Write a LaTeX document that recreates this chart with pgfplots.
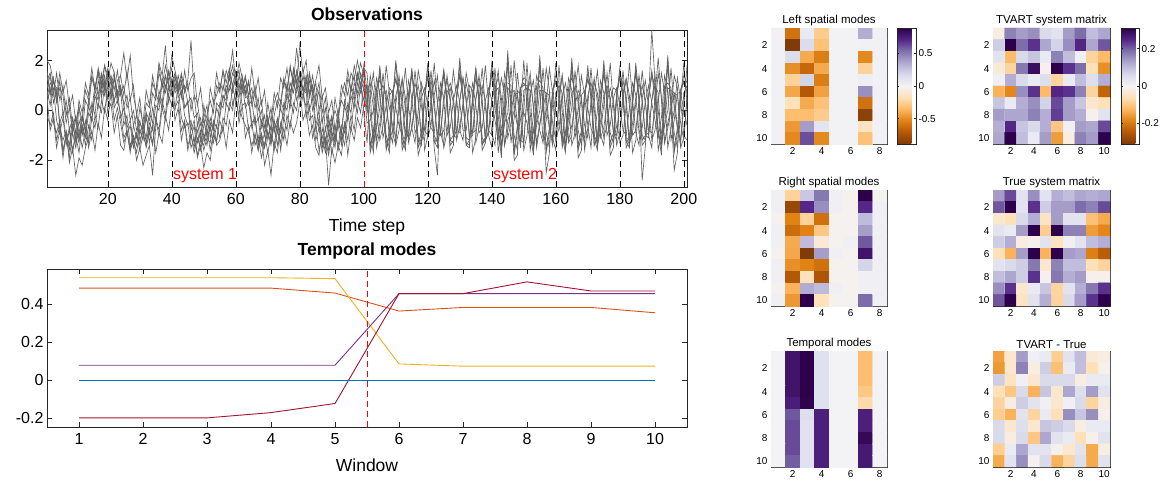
\documentclass[border=0pt]{standalone}
\usepackage{pgfplots}
\usepackage{pgfplotstable}
\pgfplotsset{compat=1.18}
\usepackage{fontspec}
\setmainfont{Liberation Sans}
\newcommand{\fsz}[1]{\fontsize{#1}{#1}\selectfont}
\definecolor{mblue}{HTML}{0072BD}
\definecolor{morange}{HTML}{D95319}
\definecolor{myellow}{HTML}{EDB120}
\definecolor{mpurple}{HTML}{7E2F8E}
\definecolor{mgreen}{HTML}{77AC30}
\definecolor{mlblue}{HTML}{4DBEEE}
\definecolor{mdred}{HTML}{A2142F}
\definecolor{mred}{RGB}{255,0,0}
\definecolor{obs}{gray}{0.38}
\definecolor{axc}{gray}{0.15}
\pgfplotsset{
  colormap={puor}{rgb255=(127,59,8) rgb255=(179,88,6) rgb255=(224,130,20) rgb255=(253,184,99) rgb255=(254,224,182) rgb255=(243,243,246) rgb255=(216,218,235) rgb255=(178,171,210) rgb255=(128,115,172) rgb255=(84,39,136) rgb255=(45,0,75)},
  big/.style={scale only axis, width=640pt,
    axis line style={line width=0.6pt, axc},
    tick style={line width=0.6pt, axc},
    tick align=inside, major tick length=5pt,
    ticklabel style={font=\fsz{16}},
    xticklabel style={yshift=-3pt},
    label style={font=\fsz{17.5}},
    xlabel style={yshift=-7pt},
    title style={font=\bfseries\fsz{17.5}},
    /pgf/number format/assume math mode=true},
  hm/.style={scale only axis, height=116pt,
    colormap name=puor, enlargelimits=false,
    y dir=reverse, ymin=0.5, ymax=10.5, ytick={2,4,6,8,10},
    axis line style={line width=0.5pt, axc},
    tick style={line width=0.5pt, axc},
    tick align=inside, major tick length=2pt,
    ticklabel style={font=\fsz{10}},
    title style={font=\fsz{11.5}, yshift=-7pt},
    /pgf/number format/assume math mode=true},
  cb/.style={colorbar, colorbar style={at={(parent axis.north east)}, anchor=north west,
    xshift=#1, width=19pt, tick align=inside, major tick length=2pt,
    axis line style={line width=0.5pt, axc}, tick style={line width=0.5pt, axc},
    yticklabel style={font=\fsz{10}, xshift=-1pt}, /pgf/number format/assume math mode=true}},
}
\pgfplotstableread{
t A B C D E F G H I J
1 0.9 1.6 0.3 1.4 0.5 1.2 -0.2 2.0 0.8 0.5
2 1.4 0.7 0.9 0.6 1.1 1.5 -0.6 1.8 0.2 -0.8
3 0.3 1.3 -0.5 1.2 0.9 0.6 -0.1 1.1 1.3 -0.3
4 0.8 0.4 -0.9 0.3 -0.4 1.5 -1.2 0.9 0.6 -1.5
5 -0.5 1.2 -0.4 0.9 -0.9 0.4 -0.6 -0.7 1.5 -0.8
6 -0.1 -0.2 -1.6 0.6 -0.3 1.0 -1.7 -1.2 0.7 -1.9
7 -1.2 0.4 -1.0 -0.5 -1.4 -0.2 -0.9 -0.8 1.2 -0.9
8 -0.7 -0.8 -1.9 0.1 -0.8 0.5 -1.6 -2.1 0.1 -1.4
9 -1.6 -0.3 -0.9 -0.9 -1.7 -0.7 -0.6 -1.5 0.6 -0.3
10 -1.0 -1.3 -1.5 -0.3 -0.8 -0.2 -1.2 -2.6 -0.5 -0.9
11 -1.7 -0.7 -0.4 -1.1 -1.3 -1.2 0.1 -1.9 0.2 0.4
12 -0.6 -1.5 -0.9 -0.2 -0.3 -0.6 -0.4 -2.2 -1.0 -0.1
13 -1.1 -0.8 0.4 -0.9 -0.8 -1.4 0.8 -1.5 -0.4 1.1
14 -0.1 -1.3 0.1 0.2 0.4 -0.6 0.4 -1.1 -1.5 0.6
15 -0.4 -0.3 1.3 -0.4 -0.1 -1.2 1.4 0.3 -0.8 1.7
16 0.8 -0.7 0.8 0.6 1.1 -0.2 0.9 -0.2 -1.6 0.8
17 0.4 0.3 1.7 0.1 0.6 -0.7 1.6 1.2 -0.5 1.5
18 1.4 -0.1 1.1 1.1 1.5 0.4 0.9 0.7 -1.1 0.5
19 0.9 1.0 1.8 0.6 0.8 -0.1 1.4 1.8 0.1 1.2
20 1.7 0.5 1.4 1.4 1.6 1.0 0.4 1.1 -0.4 -0.1
21 1.0 1.4 1.2 0.7 1.3 0.4 0.8 1.9 0.9 0.3
22 1.5 0.8 0.1 1.3 0.4 1.3 -0.4 1.5 0.3 -0.9
23 0.5 1.6 0.4 0.6 0.8 0.7 0.1 0.3 1.2 -0.2
24 0.9 0.6 -0.1 1.0 -0.3 1.4 -0.5 0.8 1.4 -1.4
25 0.3 1.0 -1.1 0.2 0.1 2.3 -1.3 -0.6 0.6 -1.6
26 -0.7 0.1 -0.8 0.6 -1.0 1.2 -0.9 -0.2 1.6 -0.8
27 -0.4 0.5 -1.6 -0.4 -0.6 2.2 -1.5 -1.4 0.4 -1.7
28 -1.3 -0.6 -1.2 0.0 -1.5 0.6 -1.0 -1.1 1.0 -0.6
29 -0.9 -0.2 -1.7 -0.8 -0.9 -0.1 -1.4 -2.0 -0.2 -1.1
30 -1.6 -1.2 -0.8 -0.4 -1.4 -0.9 -0.5 -1.5 0.5 0.1
31 -1.0 -0.8 -1.2 -1.0 -0.6 -0.5 -0.8 -2.2 -0.7 -0.5
32 -1.4 -1.5 -0.1 -0.3 -1.1 -1.3 0.3 -1.8 -0.1 0.8
33 -0.5 -0.9 -0.4 -0.9 -0.1 -0.7 0.1 -1.4 -1.3 0.2
34 -0.8 -1.4 0.7 0.1 -0.5 -1.3 1.1 -2.6 -0.6 1.4
35 0.2 -0.3 0.4 -0.4 0.7 -0.4 0.7 -0.6 -1.7 0.7
36 0.0 -0.8 1.5 0.5 0.3 -1.0 1.9 0.8 -0.9 1.8
37 1.1 0.4 1.0 0.1 1.3 0.1 1.4 0.3 -1.3 0.9
38 0.7 -0.2 1.8 1.0 0.9 -0.4 2.6 1.4 -0.2 1.4
39 1.6 1.1 1.2 0.6 1.5 0.6 0.8 1.0 -0.8 0.3
40 1.1 0.6 1.7 1.3 0.9 0.2 1.2 2.2 0.3 0.9
41 1.5 1.3 0.7 0.8 1.4 1.1 0.1 1.6 0.0 -0.4
42 0.8 0.9 0.9 1.4 0.5 0.7 0.4 1.0 1.1 0.1
43 1.1 1.5 -0.3 0.7 0.8 1.4 -0.8 1.2 0.5 -1.2
44 0.1 0.7 -0.7 1.0 -0.2 0.8 -0.4 0.1 1.6 -0.5
45 0.4 1.1 -0.5 0.3 -0.6 1.2 -1.4 0.3 0.8 -1.6
46 -0.8 0.0 -1.5 0.5 -0.4 2.8 -1.0 -1.1 1.3 -1.0
47 -0.4 0.6 -1.1 -0.3 -1.3 0.6 -1.7 -0.6 1.5 -1.5
48 -1.3 -0.6 -1.8 -0.1 -0.8 0.3 -1.1 -1.9 0.2 -0.5
49 -0.9 -0.3 -1.2 -0.9 -1.6 -0.6 -1.5 -1.4 0.9 -1.2
50 -1.6 -1.2 -1.4 -0.4 -0.9 -0.3 -0.6 -2.3 -0.3 0.2
51 -1.1 -0.7 -0.5 -1.0 -1.4 -1.1 -0.2 -1.7 0.2 -0.6
52 -1.3 -1.6 -0.8 -0.3 -0.5 -0.7 0.4 -2.0 -1.1 0.9
53 -0.4 -0.9 0.3 -0.8 -0.8 -1.3 -0.1 -1.0 -0.5 0.3
54 -0.7 -1.2 0.6 0.1 0.3 -0.6 1.0 -1.3 -1.4 1.5
55 0.3 -0.4 1.1 -0.3 0.1 -1.1 0.7 -0.1 -1.2 0.8
56 0.1 -0.9 0.8 0.6 1.0 -0.3 1.6 0.6 -0.6 1.6
57 1.0 0.3 1.6 0.2 0.6 -0.6 1.1 0.4 -1.5 0.6
58 0.8 0.0 1.2 1.0 1.5 0.3 1.7 1.5 -0.4 1.5
59 1.5 0.9 1.8 0.7 1.0 0.0 0.9 2.4 -0.9 0.2
60 1.2 0.4 1.0 1.4 1.6 0.9 1.2 1.1 0.4 0.8
61 1.6 1.4 1.1 0.9 0.7 0.5 0.2 1.9 -0.2 -0.5
62 0.7 0.8 0.2 1.3 1.1 1.4 -0.3 1.3 0.9 0.2
63 1.0 1.3 0.3 0.6 0.1 0.7 -0.6 0.5 1.4 -1.1
64 0.2 0.6 -0.8 1.1 0.4 1.2 -0.9 0.6 0.5 -0.6
65 0.4 0.9 -0.5 0.2 -0.7 0.4 -1.4 -0.5 1.7 -1.7
66 -0.6 0.1 -1.4 0.7 -0.2 1.0 -1.0 -0.3 0.6 -0.9
67 -0.3 0.5 -1.0 -0.4 -1.3 0.0 -1.6 -1.4 1.3 -1.6
68 -1.4 -0.7 -1.9 0.0 -0.9 0.4 -1.1 -1.0 0.2 -0.4
69 -0.9 -0.2 -1.3 -1.0 -1.5 -0.7 -1.5 -2.2 0.8 -1.0
70 -1.7 -1.2 -0.9 -0.3 -0.8 -0.2 -0.4 -1.6 -0.6 0.3
71 -1.0 -0.6 -1.3 -1.1 -1.4 -1.2 -0.8 -2.6 0.1 -0.5
72 -1.4 -1.6 -0.2 -0.5 -0.4 -0.6 0.3 -1.3 -0.9 0.7
73 -0.5 -0.8 0.4 -0.7 -0.9 -1.4 0.7 -1.7 -0.3 0.1
74 -0.9 -1.3 0.1 0.1 0.4 -0.5 0.3 -0.6 -1.6 1.3
75 0.3 -0.3 1.2 -0.4 0.0 -1.2 1.3 -0.1 -0.7 0.9
76 0.0 -0.8 0.7 0.6 1.1 -0.2 0.8 0.7 -1.4 1.7
77 1.1 0.4 1.7 0.1 0.5 -0.7 1.8 0.3 -0.4 0.7
78 0.7 -0.1 1.1 1.1 1.6 0.3 1.0 1.7 -0.9 1.3
79 1.6 1.0 2.5 0.7 0.9 0.0 1.5 1.1 -0.5 0.4
80 1.1 0.5 1.3 1.5 1.5 1.0 0.6 2.6 0.3 0.9
81 1.7 1.4 0.8 0.8 0.8 0.4 0.9 1.5 0.7 -0.4
82 0.8 0.7 0.7 1.4 1.2 1.3 -0.3 2.0 0.1 0.0
83 1.2 1.5 -0.4 0.6 0.0 0.7 0.2 0.5 1.5 -1.0
84 0.0 0.6 -0.2 1.0 0.5 1.4 -1.1 1.0 0.7 -0.6
85 0.5 1.1 -1.2 0.2 -0.8 0.5 -0.6 -0.6 1.2 -1.5
86 -0.8 0.0 -0.7 0.8 -0.3 1.1 -1.6 0.0 1.8 -1.8
87 -0.3 0.6 -1.7 -0.5 -1.4 -0.1 -1.0 -1.5 0.5 -0.7
88 -1.5 -0.8 -1.1 0.1 -0.7 0.5 -1.7 -1.1 0.9 -1.3
89 -0.8 -0.2 -1.8 -1.0 -1.6 -0.7 -1.2 -3.0 -0.1 -0.4
90 -1.8 -1.3 -0.9 -0.3 -0.8 -0.2 -0.5 -1.5 0.4 -0.8
91 -1.0 -0.6 -1.3 -1.1 -1.5 -1.2 0.0 -2.1 -0.8 0.5
92 -1.4 -1.6 -0.2 -0.4 -0.4 -0.6 -0.4 -1.4 0.0 -0.2
93 -0.6 -0.9 0.4 -0.9 -0.9 -1.4 0.6 -1.8 -1.2 1.0
94 -0.9 -1.4 0.1 0.2 0.4 -0.5 1.1 -0.6 -0.5 0.6
95 0.3 -0.2 1.3 -0.4 -0.1 -1.2 0.6 -0.3 -1.8 1.6
96 -0.1 -0.8 0.8 0.6 1.0 -0.2 1.5 0.9 -0.7 0.8
97 1.1 0.4 1.8 0.1 0.6 -0.8 1.2 0.4 -1.2 1.4
98 0.7 -0.1 1.2 1.1 1.5 0.4 2.0 1.5 -0.3 0.5
99 1.5 1.0 1.9 0.7 0.9 -0.1 1.3 1.0 -0.7 1.1
100 1.1 0.4 1.4 1.6 1.8 1.0 0.8 1.7 0.2 -0.1
101 0.9 1.0 0.2 -0.1 0.8 -0.5 1.0 1.5 0.8 -1.3
102 -1.5 0.7 -0.9 1.4 -1.4 -0.4 -1.7 -0.1 1.1 0.7
103 -0.8 -1.4 -1.7 0.7 -0.9 0.0 -1.1 -1.3 0.1 1.5
104 0.2 -0.7 0.9 -1.2 0.1 1.3 0.9 -0.6 -1.5 0.0
105 1.8 0.1 1.2 -0.5 1.7 0.7 1.4 0.8 -0.8 -1.2
106 0.2 1.5 0.9 0.6 0.1 -1.1 0.3 1.0 0.2 -0.6
107 -1.0 0.2 -1.6 0.8 -1.5 -0.5 -1.2 0.6 1.8 0.2
108 -1.5 -0.8 -1.0 0.1 -0.8 0.6 -1.7 -1.2 0.7 0.9
109 0.7 -1.3 0.3 -0.6 0.7 0.8 0.4 -0.8 -0.9 0.7
110 1.3 0.6 1.9 -1.1 1.2 0.1 2.0 0.2 -1.4 -1.4
111 0.6 1.1 0.3 0.1 0.7 -0.6 0.8 1.4 0.6 -0.8
112 -1.4 0.6 -1.1 1.3 -0.9 -1.0 -1.6 0.2 1.2 0.5
113 -1.0 -1.2 -1.6 0.5 -1.4 0.1 -1.2 -0.8 0.0 1.7
114 0.3 -0.9 0.7 -1.1 0.2 1.2 0.7 -1.1 -1.3 0.1
115 1.7 0.2 1.4 -0.7 1.6 0.5 1.5 0.5 -0.7 -0.7
116 0.3 1.6 0.7 0.4 0.3 -0.9 0.2 1.1 0.1 -1.3
117 -1.1 0.3 -1.5 1.0 -1.3 -0.6 -1.8 0.5 1.6 0.0
118 -1.4 -0.9 -1.1 0.2 -0.9 0.5 -1.3 -1.3 0.9 1.1
119 0.6 -1.2 0.4 -0.8 0.6 0.9 0.5 -0.7 -1.6 0.6
120 1.4 0.5 1.8 -1.0 1.3 0.2 1.9 0.3 -1.0 -1.1
121 0.5 1.2 0.4 0.2 0.6 -0.7 0.7 1.6 0.5 -0.6
122 -1.3 0.5 -1.2 1.2 -1.0 -0.9 -1.5 0.1 1.9 0.6
123 -1.1 -1.3 -1.5 0.4 -1.3 0.2 -2.6 -0.9 0.3 1.4
124 0.4 -0.8 0.6 -1.0 0.3 1.1 0.8 -1.0 -0.9 -0.1
125 1.6 0.3 1.5 -0.8 1.5 0.4 1.6 0.6 -1.4 -1.5
126 0.4 1.4 0.6 0.5 0.2 -1.0 0.4 1.2 0.7 -0.9
127 -1.2 0.4 -1.4 0.9 -1.2 -0.7 -1.7 0.4 1.1 0.3
128 -1.3 -1.0 -1.2 0.3 -1.0 0.4 -1.4 -1.1 0.6 1.6
129 0.5 -1.1 0.5 -0.9 0.5 1.0 0.6 -0.8 -1.2 0.5
130 1.5 0.4 2.1 -0.9 1.4 0.3 1.8 0.4 -0.6 -0.8
131 0.5 1.3 0.5 0.3 0.5 -0.8 0.6 1.3 0.2 -1.2
132 -1.4 0.5 -1.3 1.1 -1.1 -0.8 -1.4 0.3 1.5 0.1
133 -1.2 -1.1 -1.4 0.4 -1.2 0.3 -1.5 -1.0 0.8 1.0
134 0.4 -1.0 0.6 -0.9 0.4 1.1 0.5 -0.9 -1.7 0.8
135 1.7 0.4 1.6 -0.8 1.3 0.2 1.7 0.5 -1.1 -1.3
136 0.3 1.4 0.4 0.4 0.4 -0.9 0.5 1.1 0.4 -0.7
137 -1.1 0.3 -1.4 1.0 -1.3 -0.7 -1.6 0.4 1.7 0.6
138 -1.3 -1.2 -1.1 0.3 -1.1 0.4 -1.3 -1.2 0.1 1.8
139 0.6 -0.9 0.4 -0.8 0.6 0.9 0.6 -0.8 -1.0 0.2
140 1.4 0.5 1.7 -1.0 1.6 0.4 1.9 0.3 -1.5 -0.9
141 0.9 0.8 0.1 0.7 0.9 -0.4 1.1 1.7 0.9 -1.4
142 -1.7 0.9 -0.8 1.6 -0.7 -1.2 -1.1 -0.2 1.3 0.4
143 -0.7 -1.5 -1.9 0.0 -1.6 -0.1 -1.0 -1.4 0.5 1.3
144 0.0 -0.5 1.1 -1.4 -0.1 1.5 0.2 -0.5 -1.4 0.6
145 2.1 -0.1 1.1 -0.4 1.9 0.8 2.4 0.9 -0.8 -1.1
146 0.1 1.8 1.0 0.0 0.0 -1.3 0.0 0.7 0.0 -0.5
147 -1.0 0.0 -1.8 0.6 -1.6 -0.3 -2.0 0.8 2.0 0.0
148 -1.6 -0.6 -0.8 0.7 -0.6 0.8 -1.8 -0.6 0.6 1.5
149 0.9 -1.5 0.1 -0.4 0.9 0.6 0.9 -1.3 -1.2 0.3
150 1.1 0.8 2.0 -1.3 1.0 -0.1 1.3 0.0 -1.3 -1.6
151 0.8 0.9 0.2 0.6 1.0 -0.5 1.2 1.9 0.6 -1.0
152 -1.6 0.8 -0.9 1.5 -0.8 -1.3 -1.2 -0.1 1.2 0.7
153 -0.8 -1.6 -1.8 0.1 -1.5 -0.2 -0.9 -1.5 0.2 1.2
154 0.1 -0.6 1.0 -1.3 0.0 1.4 0.1 -0.4 -1.5 -0.1
155 2.0 0.0 1.2 -0.5 1.8 0.9 2.2 0.8 -0.6 -0.8
156 0.2 1.7 0.9 0.1 0.1 -1.2 0.1 0.8 0.3 -1.3
157 -0.9 0.1 -1.7 0.7 -1.5 -0.4 -2.5 0.7 1.7 0.2
158 -1.5 -0.7 -0.9 0.6 -0.7 0.7 -1.7 -0.7 0.8 1.7
159 0.8 -1.4 0.2 -0.5 0.8 0.7 0.8 -1.2 -1.1 0.7
160 1.2 0.7 1.9 -1.2 1.1 0.0 1.4 0.1 -1.6 -1.2
161 0.7 1.0 0.3 0.5 0.9 -0.6 1.1 1.8 0.4 -0.7
162 -1.5 0.7 -1.0 1.4 -0.9 -1.2 -1.3 0.0 1.4 0.5
163 -0.9 -1.5 -1.7 0.2 -1.4 -0.1 -1.0 -1.6 0.0 1.1
164 0.2 -0.7 0.9 -1.2 0.1 1.3 0.0 -0.3 -1.3 0.3
165 1.9 0.1 1.3 -0.6 1.7 0.8 2.1 0.7 -1.0 -1.4
166 0.3 1.6 0.8 0.2 0.2 -1.1 0.2 0.9 0.8 -0.9
167 -0.8 0.2 -1.6 0.8 -1.4 -0.5 -1.9 0.6 1.8 0.1
168 -1.4 -0.8 -1.0 0.5 -0.8 0.6 -1.6 -0.8 0.4 1.4
169 0.7 -1.3 0.3 -0.6 0.7 0.8 0.7 -1.1 -1.6 0.6
170 1.3 0.6 1.8 -1.1 1.2 0.1 1.5 0.2 -0.7 -0.6
171 0.6 1.1 0.4 0.4 0.8 -0.7 1.0 1.7 0.1 -1.5
172 -1.4 0.6 -1.1 1.3 -1.0 -1.1 -1.4 0.1 1.1 0.6
173 -1.0 -1.4 -1.6 0.3 -1.3 0.0 -1.1 -1.5 0.7 1.6
174 0.3 -0.8 0.8 -1.1 0.2 1.2 0.1 -0.4 -1.0 0.0
175 1.8 0.2 1.4 -0.7 1.6 0.7 2.0 0.6 -1.4 -1.1
176 0.4 1.5 0.7 0.3 0.3 -1.0 0.3 1.0 0.5 -0.6
177 -0.9 0.3 -1.5 0.9 -1.3 -0.6 -1.8 0.5 1.9 0.4
178 -1.3 -0.9 -1.1 0.4 -0.9 0.5 -1.5 -0.9 0.2 0.9
179 0.6 -1.2 0.4 -0.7 0.6 0.9 0.6 -1.0 -1.4 0.8
180 1.4 0.5 1.7 -1.0 1.3 0.2 1.6 0.3 -0.9 -1.3
181 0.5 1.2 0.5 0.5 0.7 -0.8 0.9 1.6 0.7 -1.0
182 -1.3 0.5 -1.2 1.2 -1.1 -1.0 -1.5 0.2 1.3 0.2
183 -1.1 -1.3 -1.5 0.2 -1.2 0.1 -1.2 -1.4 0.6 1.9
184 0.4 -0.9 0.7 -1.0 0.3 1.1 0.2 -0.5 -1.7 0.4
185 1.7 0.3 1.5 -0.8 1.5 0.6 1.9 0.5 -1.2 -0.9
186 0.5 1.4 0.6 0.4 0.4 -0.9 0.4 1.1 0.2 -1.4
187 -1.0 0.4 -1.4 1.0 -1.2 -0.7 -2.8 0.4 1.6 0.5
188 -1.2 -1.0 -1.2 0.3 -1.0 0.4 -1.4 -1.0 0.3 1.2
189 0.5 -1.1 0.5 -0.8 0.5 1.0 0.5 -0.9 -1.0 0.1
190 1.5 0.4 1.6 -0.9 1.4 0.3 3.2 0.4 -1.5 -1.2
191 0.8 1.0 0.2 0.1 1.0 -0.4 1.2 1.4 0.6 -0.8
192 -1.6 0.7 -0.8 1.5 -0.8 -1.1 -1.0 0.0 2.1 0.3
193 -0.9 -1.4 -1.8 0.5 -1.5 -0.3 -1.2 -1.2 0.5 1.5
194 0.1 -0.6 1.0 -1.3 0.0 1.4 0.4 -0.6 -1.3 0.7
195 2.0 0.0 1.1 -0.5 1.8 0.8 2.2 0.9 -0.7 -1.5
196 0.2 1.7 0.9 0.1 0.1 -1.2 0.1 0.8 0.0 -0.7
197 -0.9 0.1 -1.7 0.7 -1.5 -0.4 -2.4 0.7 1.4 0.0
198 -1.5 -0.7 -0.9 0.6 -0.7 0.7 -1.7 -0.7 0.9 1.3
199 0.8 -1.4 0.2 -0.5 0.8 0.7 0.8 -1.2 -1.5 0.4
200 1.2 0.7 1.9 -1.2 1.1 0.0 1.4 0.1 -1.1 -1.0
201 0.7 1.0 0.3 0.5 0.9 -0.6 1.1 1.8 0.5 -1.2
}\obsdata
\pgfplotstableread{
w m1 m2 m3 m4 m5 m6 m7 m8
1 0 0.485 0.540 0.078 0 0 -0.200 0
2 0 0.485 0.540 0.078 0 0 -0.200 0
3 0 0.485 0.540 0.078 0 0 -0.200 0
4 0 0.485 0.540 0.078 0 0 -0.172 0
5 0 0.459 0.535 0.078 0 0 -0.124 0
6 0 0.364 0.085 0.456 0 0 0.456 0
7 0 0.383 0.073 0.456 0 0 0.456 0
8 0 0.383 0.073 0.456 0 0 0.518 0
9 0 0.383 0.073 0.456 0 0 0.470 0
10 0 0.355 0.073 0.456 0 0 0.470 0
}\tmodes
\begin{document}
\begin{tikzpicture}
\useasboundingbox (0,0) rectangle (1164pt,485pt);
% ---------- Observations ----------
\begin{axis}[big, at={(47pt,298pt)}, anchor=south west, height=157pt,
  xmin=1, xmax=201, ymin=-3.07, ymax=3.22,
  xtick={20,40,...,200}, ytick={-2,0,2}, yticklabels={-2,0,2},
  xticklabels={20,40,60,80,100,120,140,160,180,200},
  title={Observations}, xlabel={Time step}]
\pgfplotsinvokeforeach{A,B,C,D,E,F,G,H,I,J}{
  \addplot[obs, line width=0.65pt, mark=none] table[x=t, y=#1] {\obsdata};
}
\pgfplotsinvokeforeach{20,40,60,80,120,140,160,180,200}{
  \addplot[black, line width=0.6pt, dash pattern=on 6pt off 4pt] coordinates {(#1,-3.07) (#1,3.22)};
}
\addplot[mred, line width=0.6pt, dash pattern=on 6pt off 4pt] coordinates {(100,-3.07) (100,3.22)};
\node[mred, anchor=west, inner sep=1pt, font=\fsz{16}] at (axis cs:40,-2.62) {system 1};
\node[mred, anchor=west, inner sep=1pt, font=\fsz{16}] at (axis cs:140,-2.62) {system 2};
\end{axis}
% ---------- Temporal modes (lines) ----------
\begin{axis}[big, at={(47pt,58pt)}, anchor=south west, height=158pt,
  xmin=0.5, xmax=10.5, ymin=-0.248, ymax=0.586,
  xtick={1,...,10}, xticklabels={1,2,3,4,5,6,7,8,9,10},
  ytick={-0.2,0,0.2,0.4}, yticklabels={-0.2,0,0.2,0.4},
  title={Temporal modes}, xlabel={Window}]
\addplot[mgreen, line width=0.9pt] table[x=w, y=m5] {\tmodes};
\addplot[mlblue, line width=0.9pt] table[x=w, y=m6] {\tmodes};
\addplot[mblue, line width=0.9pt] table[x=w, y=m1] {\tmodes};
\addplot[morange, line width=0.9pt] table[x=w, y=m2] {\tmodes};
\addplot[myellow, line width=0.9pt] table[x=w, y=m3] {\tmodes};
\addplot[mpurple, line width=0.9pt] table[x=w, y=m4] {\tmodes};
\addplot[mdred, line width=0.9pt] table[x=w, y=m7] {\tmodes};
\addplot[mblue, line width=0.9pt] table[x=w, y=m8] {\tmodes};
\end{axis}
% overlay axis for the red window divider
\begin{axis}[scale only axis, width=640pt, height=158pt, at={(47pt,58pt)}, anchor=south west,
  xmin=0.5, xmax=10.5, ymin=-0.248, ymax=0.586, hide axis]
\addplot[mred, line width=1pt, dash pattern=on 6pt off 4pt] coordinates {(5.5,-0.248) (5.5,0.586)};
\end{axis}
% ---------- Left spatial modes ----------
\begin{axis}[hm, at={(771pt,341pt)}, anchor=south west, width=116pt,
  xmin=0.5, xmax=8.5, xtick={2,4,6,8}, title={Left spatial modes},
  point meta min=-0.887, point meta max=0.887,
  cb=1.5pt, colorbar style={ytick={-0.5,0,0.5}, yticklabels={-0.5,0,0.5}}]
\addplot[matrix plot*, mesh/cols=8, point meta=explicit] coordinates {
(1,1)[0.02] (2,1)[-0.60] (3,1)[0.07] (4,1)[-0.27] (5,1)[0.01] (6,1)[0.01] (7,1)[0.35] (8,1)[0.02]
(1,2)[0.02] (2,2)[-0.887] (3,2)[0.16] (4,2)[-0.31] (5,2)[0.01] (6,2)[0.01] (7,2)[0.02] (8,2)[0.02]
(1,3)[0.02] (2,3)[0.16] (3,3)[-0.40] (4,3)[-0.55] (5,3)[0.01] (6,3)[0.01] (7,3)[-0.51] (8,3)[0.02]
(1,4)[0.02] (2,4)[-0.49] (3,4)[-0.64] (4,4)[-0.40] (5,4)[0.01] (6,4)[0.01] (7,4)[-0.24] (8,4)[0.02]
(1,5)[0.02] (2,5)[-0.24] (3,5)[0.20] (4,5)[-0.55] (5,5)[0.01] (6,5)[0.01] (7,5)[0.04] (8,5)[0.02]
(1,6)[0.02] (2,6)[-0.41] (3,6)[-0.71] (4,6)[-0.43] (5,6)[0.01] (6,6)[0.01] (7,6)[0.44] (8,6)[0.02]
(1,7)[0.02] (2,7)[-0.16] (3,7)[-0.40] (4,7)[-0.31] (5,7)[0.01] (6,7)[0.01] (7,7)[-0.60] (8,7)[0.02]
(1,8)[0.02] (2,8)[-0.33] (3,8)[-0.33] (4,8)[-0.27] (5,8)[0.01] (6,8)[0.01] (7,8)[-0.84] (8,8)[0.02]
(1,9)[0.02] (2,9)[-0.46] (3,9)[0.40] (4,9)[0.11] (5,9)[0.01] (6,9)[0.01] (7,9)[-0.15] (8,9)[0.02]
(1,10)[0.02] (2,10)[-0.51] (3,10)[0.62] (4,10)[-0.51] (5,10)[0.01] (6,10)[0.01] (7,10)[-0.31] (8,10)[0.02]
};
\end{axis}
% ---------- Right spatial modes ----------
\begin{axis}[hm, at={(771pt,179pt)}, anchor=south west, width=116pt,
  xmin=0.5, xmax=8.5, xtick={2,4,6,8}, title={Right spatial modes},
  point meta min=-1, point meta max=1]
\addplot[matrix plot*, mesh/cols=8, point meta=explicit] coordinates {
(1,1)[0.03] (2,1)[-0.27] (3,1)[0.28] (4,1)[0.58] (5,1)[0.03] (6,1)[-0.02] (7,1)[1.0] (8,1)[-0.02]
(1,2)[0.03] (2,2)[-0.9] (3,2)[0.8] (4,2)[0.5] (5,2)[0.03] (6,2)[-0.02] (7,2)[0.8] (8,2)[0.03]
(1,3)[-0.02] (2,3)[-0.6] (3,3)[-0.27] (4,3)[-0.68] (5,3)[-0.02] (6,3)[-0.02] (7,3)[0.33] (8,3)[0.03]
(1,4)[0.03] (2,4)[-0.7] (3,4)[-0.6] (4,4)[-0.32] (5,4)[-0.02] (6,4)[-0.02] (7,4)[0.45] (8,4)[0.03]
(1,5)[0.03] (2,5)[-0.45] (3,5)[0.33] (4,5)[-0.1] (5,5)[-0.02] (6,5)[0.03] (7,5)[0.67] (8,5)[0.03]
(1,6)[-0.02] (2,6)[-0.46] (3,6)[-1.0] (4,6)[0.45] (5,6)[0.03] (6,6)[-0.02] (7,6)[0.9] (8,6)[0.03]
(1,7)[0.03] (2,7)[-0.55] (3,7)[-0.6] (4,7)[-0.68] (5,7)[-0.02] (6,7)[-0.02] (7,7)[0.22] (8,7)[0.03]
(1,8)[0.03] (2,8)[-0.8] (3,8)[-0.18] (4,8)[-0.82] (5,8)[-0.02] (6,8)[-0.02] (7,8)[0.03] (8,8)[0.03]
(1,9)[-0.02] (2,9)[-0.42] (3,9)[0.4] (4,9)[0.33] (5,9)[0.03] (6,9)[-0.02] (7,9)[0.03] (8,9)[0.03]
(1,10)[0.03] (2,10)[-0.52] (3,10)[1.0] (4,10)[-0.18] (5,10)[-0.02] (6,10)[-0.02] (7,10)[0.62] (8,10)[0.03]
};
\end{axis}
% ---------- Temporal modes (matrix) ----------
\begin{axis}[hm, at={(771pt,18pt)}, anchor=south west, width=116pt,
  xmin=0.5, xmax=8.5, xtick={2,4,6,8}, title={Temporal modes},
  point meta min=-0.54, point meta max=0.54]
\addplot[matrix plot*, mesh/cols=8, point meta=explicit] coordinates {
(1,1)[0] (2,1)[0.485] (3,1)[0.540] (4,1)[0.078] (5,1)[0] (6,1)[0] (7,1)[-0.200] (8,1)[0]
(1,2)[0] (2,2)[0.485] (3,2)[0.540] (4,2)[0.078] (5,2)[0] (6,2)[0] (7,2)[-0.200] (8,2)[0]
(1,3)[0] (2,3)[0.485] (3,3)[0.540] (4,3)[0.078] (5,3)[0] (6,3)[0] (7,3)[-0.200] (8,3)[0]
(1,4)[0] (2,4)[0.485] (3,4)[0.540] (4,4)[0.078] (5,4)[0] (6,4)[0] (7,4)[-0.172] (8,4)[0]
(1,5)[0] (2,5)[0.459] (3,5)[0.535] (4,5)[0.078] (5,5)[0] (6,5)[0] (7,5)[-0.124] (8,5)[0]
(1,6)[0] (2,6)[0.364] (3,6)[0.085] (4,6)[0.456] (5,6)[0] (6,6)[0] (7,6)[0.456] (8,6)[0]
(1,7)[0] (2,7)[0.383] (3,7)[0.073] (4,7)[0.456] (5,7)[0] (6,7)[0] (7,7)[0.456] (8,7)[0]
(1,8)[0] (2,8)[0.383] (3,8)[0.073] (4,8)[0.456] (5,8)[0] (6,8)[0] (7,8)[0.518] (8,8)[0]
(1,9)[0] (2,9)[0.383] (3,9)[0.073] (4,9)[0.456] (5,9)[0] (6,9)[0] (7,9)[0.470] (8,9)[0]
(1,10)[0] (2,10)[0.355] (3,10)[0.073] (4,10)[0.456] (5,10)[0] (6,10)[0] (7,10)[0.470] (8,10)[0]
};
\end{axis}
% ---------- TVART system matrix ----------
\begin{axis}[hm, at={(993pt,341pt)}, anchor=south west, width=117pt,
  xmin=0.5, xmax=10.5, xtick={2,4,6,8,10}, title={TVART system matrix},
  point meta min=-0.31, point meta max=0.31,
  cb=2.5pt, colorbar style={width=18pt, ytick={-0.2,0,0.2}, yticklabels={-0.2,0,0.2}}]
\addplot[matrix plot*, mesh/cols=10, point meta=explicit] coordinates {
(1,1)[-0.02] (2,1)[0.17] (3,1)[0.14] (4,1)[0.155] (5,1)[0.06] (6,1)[0.04] (7,1)[0.14] (8,1)[0.19] (9,1)[0.10] (10,1)[0.13]
(1,2)[0.08] (2,2)[0.31] (3,2)[0.19] (4,2)[0.24] (5,2)[0.13] (6,2)[0.07] (7,2)[0.155] (8,2)[0.25] (9,2)[0.13] (10,2)[0.21]
(1,3)[0.04] (2,3)[-0.12] (3,3)[0.06] (4,3)[0.09] (5,3)[0.02] (6,3)[0.17] (7,3)[0.10] (8,3)[0.01] (9,3)[-0.08] (10,3)[-0.12]
(1,4)[-0.03] (2,4)[-0.08] (3,4)[0.18] (4,4)[0.29] (5,4)[-0.01] (6,4)[0.31] (7,4)[0.24] (8,4)[0.19] (9,4)[-0.06] (10,4)[-0.17]
(1,5)[0.01] (2,5)[0.12] (3,5)[0.06] (4,5)[0.02] (5,5)[0.05] (6,5)[-0.08] (7,5)[0.02] (8,5)[0.10] (9,5)[0.05] (10,5)[0.12]
(1,6)[-0.13] (2,6)[-0.18] (3,6)[0.155] (4,6)[0.24] (5,6)[-0.12] (6,6)[0.25] (7,6)[0.24] (8,6)[0.17] (9,6)[-0.08] (10,6)[-0.23]
(1,7)[0.09] (2,7)[0.02] (3,7)[0.12] (4,7)[0.155] (5,7)[0.07] (6,7)[0.22] (7,7)[0.14] (8,7)[0.09] (9,7)[-0.04] (10,7)[-0.06]
(1,8)[0.14] (2,8)[0.13] (3,8)[0.13] (4,8)[0.17] (5,8)[0.12] (6,8)[0.23] (7,8)[0.14] (8,8)[0.12] (9,8)[-0.01] (10,8)[0.04]
(1,9)[0.12] (2,9)[0.25] (3,9)[0.09] (4,9)[0.06] (5,9)[0.12] (6,9)[-0.10] (7,9)[0.01] (8,9)[0.14] (9,9)[0.13] (10,9)[0.22]
(1,10)[0.13] (2,10)[0.31] (3,10)[0.10] (4,10)[0.02] (5,10)[0.14] (6,10)[-0.155] (7,10)[-0.02] (8,10)[0.17] (9,10)[0.14] (10,10)[0.31]
};
\end{axis}
% ---------- True system matrix ----------
\begin{axis}[hm, at={(993pt,179pt)}, anchor=south west, width=117pt,
  xmin=0.5, xmax=10.5, xtick={2,4,6,8,10}, title={True system matrix},
  point meta min=-0.31, point meta max=0.31]
\addplot[matrix plot*, mesh/cols=10, point meta=explicit] coordinates {
(1,1)[0.14] (2,1)[0.22] (3,1)[0.04] (4,1)[0.155] (5,1)[0.04] (6,1)[0.12] (7,1)[0.10] (8,1)[0.13] (9,1)[0.12] (10,1)[0.13]
(1,2)[0.21] (2,2)[0.31] (3,2)[0.04] (4,2)[0.24] (5,2)[0.08] (6,2)[0.14] (7,2)[0.14] (8,2)[0.19] (9,2)[0.17] (10,2)[0.22]
(1,3)[-0.04] (2,3)[-0.06] (3,3)[0.06] (4,3)[0.12] (5,3)[-0.05] (6,3)[0.14] (7,3)[0.04] (8,3)[0.04] (9,3)[-0.11] (10,3)[-0.14]
(1,4)[0.04] (2,4)[0.02] (3,4)[0.14] (4,4)[0.31] (5,4)[-0.09] (6,4)[0.31] (7,4)[0.17] (8,4)[0.17] (9,4)[-0.155] (10,4)[-0.18]
(1,5)[0.08] (2,5)[0.12] (3,5)[-0.02] (4,5)[-0.01] (5,5)[0.04] (6,5)[-0.05] (7,5)[0.01] (8,5)[0.04] (9,5)[0.10] (10,5)[0.12]
(1,6)[-0.06] (2,6)[-0.13] (3,6)[0.14] (4,6)[0.31] (5,6)[-0.13] (6,6)[0.31] (7,6)[0.14] (8,6)[0.13] (9,6)[-0.19] (10,6)[-0.24]
(1,7)[0.04] (2,7)[0.06] (3,7)[0.08] (4,7)[0.18] (5,7)[-0.04] (6,7)[0.17] (7,7)[0.10] (8,7)[0.10] (9,7)[-0.06] (10,7)[-0.08]
(1,8)[0.10] (2,8)[0.13] (3,8)[0.08] (4,8)[0.24] (5,8)[-0.01] (6,8)[0.18] (7,8)[0.12] (8,8)[0.14] (9,8)[-0.01] (10,8)[-0.01]
(1,9)[0.155] (2,9)[0.24] (3,9)[-0.04] (4,9)[0.02] (5,9)[0.09] (6,9)[-0.08] (7,9)[0.04] (8,9)[0.12] (9,9)[0.18] (10,9)[0.24]
(1,10)[0.21] (2,10)[0.31] (3,10)[-0.05] (4,10)[0.04] (5,10)[0.12] (6,10)[-0.08] (7,10)[0.06] (8,10)[0.14] (9,10)[0.24] (10,10)[0.31]
};
\end{axis}
% ---------- TVART - True ----------
\begin{axis}[hm, at={(993pt,18pt)}, anchor=south west, width=117pt,
  xmin=0.5, xmax=10.5, xtick={2,4,6,8,10}, title={TVART - True},
  point meta min=-0.31, point meta max=0.31]
\addplot[matrix plot*, mesh/cols=10, point meta=explicit] coordinates {
(1,1)[-0.15] (2,1)[-0.04] (3,1)[0.14] (4,1)[0.01] (5,1)[0.02] (6,1)[-0.09] (7,1)[0.04] (8,1)[0.10] (9,1)[-0.03] (10,1)[-0.02]
(1,2)[-0.16] (2,2)[-0.04] (3,2)[0.17] (4,2)[-0.02] (5,2)[0.08] (6,2)[-0.11] (7,2)[0.02] (8,2)[0.10] (9,2)[-0.06] (10,2)[-0.01]
(1,3)[0.08] (2,3)[-0.05] (3,3)[0.01] (4,3)[-0.04] (5,3)[0.06] (6,3)[0.06] (7,3)[0.06] (8,3)[-0.02] (9,3)[0.02] (10,3)[0.02]
(1,4)[-0.06] (2,4)[-0.10] (3,4)[0.06] (4,4)[-0.13] (5,4)[0.09] (6,4)[-0.04] (7,4)[0.13] (8,4)[0.05] (9,4)[0.14] (10,4)[0.04]
(1,5)[-0.08] (2,5)[-0.02] (3,5)[0.08] (4,5)[0.04] (5,5)[0.01] (6,5)[-0.04] (7,5)[0.01] (8,5)[0.06] (9,5)[-0.08] (10,5)[-0.02]
(1,6)[-0.09] (2,6)[-0.13] (3,6)[0.04] (4,6)[-0.08] (5,6)[0.02] (6,6)[-0.06] (7,6)[0.155] (8,6)[0.09] (9,6)[0.155] (10,6)[-0.01]
(1,7)[0.06] (2,7)[-0.04] (3,7)[0.05] (4,7)[-0.04] (5,7)[0.09] (6,7)[0.08] (7,7)[0.06] (8,7)[-0.02] (9,7)[0.02] (10,7)[0.02]
(1,8)[0.06] (2,8)[-0.02] (3,8)[0.06] (4,8)[-0.10] (5,8)[0.13] (6,8)[0.04] (7,8)[0.02] (8,8)[-0.06] (9,8)[-0.01] (10,8)[0.04]
(1,9)[-0.09] (2,9)[0.02] (3,9)[0.13] (4,9)[0.04] (5,9)[0.04] (6,9)[-0.01] (7,9)[-0.04] (8,9)[0.04] (9,9)[-0.14] (10,9)[-0.02]
(1,10)[-0.14] (2,10)[0.04] (3,10)[0.155] (4,10)[-0.01] (5,10)[0.06] (6,10)[-0.13] (7,10)[-0.08] (8,10)[0.05] (9,10)[-0.14] (10,10)[0.04]
};
\end{axis}
\end{tikzpicture}
\end{document}
